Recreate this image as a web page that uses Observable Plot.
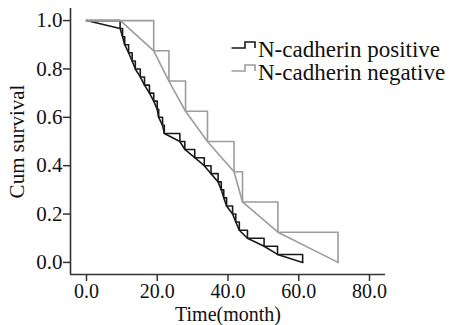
<!DOCTYPE html>
<html><head><meta charset="utf-8">
<script src="https://cdn.jsdelivr.net/npm/d3@7"></script>
<script src="https://cdn.jsdelivr.net/npm/@observablehq/plot@0.6"></script>
<style>
body{margin:0;background:#fff;}
#wrap{position:relative;width:449px;height:325px;overflow:hidden;background:#fff;}
.row{position:absolute;left:258px;font-family:"Liberation Serif","Times New Roman",serif;font-size:23px;line-height:25px;white-space:nowrap;color:#111;}
.icon{position:absolute;left:229px;}
</style>
</head><body>
<div id="wrap"></div>
<script>
// Positive group (Kaplan-Meier: time in months, cumulative survival)
const posTime = [0, 9.5, 10.2, 10.8, 11.9, 12.9, 13.8, 15.2, 16.4, 17.8, 19.0, 20.0, 20.4, 21.5, 22.0,
                 26.4, 27.8, 30.6, 33.3, 35.2, 37.2, 38.1, 38.8, 39.6, 41.3, 42.2, 43.2, 45.5, 50.2, 54.0, 61.1];
const posSurv = [1, 0.967, 0.933, 0.9, 0.867, 0.833, 0.8, 0.767, 0.733, 0.7, 0.667, 0.633, 0.6, 0.567, 0.533,
                 0.5, 0.467, 0.433, 0.4, 0.367, 0.333, 0.3, 0.267, 0.233, 0.2, 0.167, 0.133, 0.1, 0.067, 0.033, 0];
// Negative group
const negTime = [0, 9.6, 19.0, 23.3, 28.0, 34.2, 41.7, 44.1, 54.1, 71.1];
const negSurv = [1, 1, 0.875, 0.75, 0.625, 0.5, 0.375, 0.25, 0.125, 0];

const seriesNames = ["N-cadherin positive", "N-cadherin negative"];
const seriesColors = ["#1a1a1a", "#9c9c9c"];
const xTicks = [0, 20, 40, 60, 80];
const yTicks = [0, 0.2, 0.4, 0.6, 0.8, 1.0];
const xDomain = [-4.52, 84.52];
const yDomain = [-0.05, 1.05];

const pos = posTime.map((t, i) => ({t, s: posSurv[i]}));
const neg = negTime.map((t, i) => ({t, s: negSurv[i]}));

const fmt = d3.format(".1f");
const chart = Plot.plot({
  width: 449, height: 325,
  marginLeft: 70, marginRight: 64, marginTop: 8, marginBottom: 51,
  style: {fontFamily: '"Liberation Serif", "Times New Roman", serif', fontSize: "20px", color: "#111", background: "#fff"},
  x: {domain: xDomain},
  y: {domain: yDomain},
  marks: [
    Plot.axisX({ticks: xTicks, tickFormat: fmt, tickSize: 7, tickPadding: 2, stroke: "#333", strokeWidth: 1.5,
      label: "Time(month)", labelAnchor: "center", labelOffset: 46.5, labelArrow: "none"}),
    Plot.axisY({ticks: yTicks, tickFormat: fmt, tickSize: 7, tickPadding: 1, stroke: "#333", strokeWidth: 1.5,
      label: "Cum survival", labelAnchor: "center", labelOffset: 61, labelArrow: "none", fontSize: 21}),
    Plot.ruleY([yDomain[0]], {stroke: "#333", strokeWidth: 1.6}),
    Plot.ruleX([xDomain[0]], {stroke: "#333", strokeWidth: 1.6}),
    Plot.line(pos, {x: "t", y: "s", curve: "step-after", stroke: seriesColors[0], strokeWidth: 1.6}),
    Plot.line(pos, {x: "t", y: "s", curve: "linear", stroke: seriesColors[0], strokeWidth: 1.6}),
    Plot.line(neg, {x: "t", y: "s", curve: "step-after", stroke: seriesColors[1], strokeWidth: 1.6}),
    Plot.line(neg, {x: "t", y: "s", curve: "linear", stroke: seriesColors[1], strokeWidth: 1.6})
  ]
});
const wrap = document.getElementById("wrap");
wrap.appendChild(chart);

// Legend
const baselines = [56.5, 80];
seriesNames.forEach((name, i) => {
  const row = document.createElement("div");
  row.className = "row";
  row.style.top = (baselines[i] - 20) + "px";
  row.textContent = name;
  wrap.appendChild(row);
  const ns = "http://www.w3.org/2000/svg";
  const svg = document.createElementNS(ns, "svg");
  svg.setAttribute("class", "icon");
  svg.setAttribute("width", 28);
  svg.setAttribute("height", 10);
  svg.style.top = (baselines[i] - 17) + "px";
  const p = document.createElementNS(ns, "path");
  p.setAttribute("d", "M2.5,8 H16 V2 H26 V8");
  p.setAttribute("fill", "none");
  p.setAttribute("stroke", seriesColors[i]);
  p.setAttribute("stroke-width", "1.6");
  svg.appendChild(p);
  wrap.appendChild(svg);
});
</script>
</body></html>
